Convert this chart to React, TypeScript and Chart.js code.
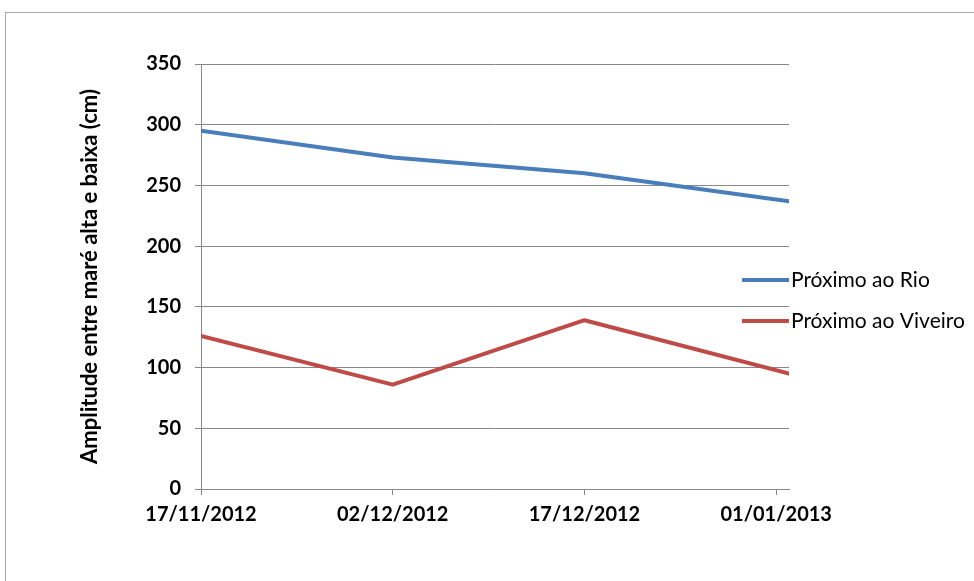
import React, { useEffect, useRef } from "react";
import { Chart, registerables } from "chart.js";

Chart.register(...registerables);

// Measurement dates and tidal amplitude (cm) for each site
const sampleDates = ["2012-11-17", "2012-12-02", "2012-12-17", "2013-01-02"];
const proximoAoRio = [295, 273, 260, 237];
const proximoAoViveiro = [126, 86, 139, 95];
const seriesLabels = ["Próximo ao Rio", "Próximo ao Viveiro"];
const seriesColors = ["#4A7EBB", "#BE4B48"];

// Dates shown on the horizontal axis
const tickDates = ["2012-11-17", "2012-12-02", "2012-12-17", "2013-01-01"];
const yAxisTitle = "Amplitude entre maré alta e baixa (cm)";

const DAY_MS = 86400000;
const toUtc = (iso: string) => {
  const [y, m, d] = iso.split("-").map(Number);
  return Date.UTC(y, m - 1, d);
};
const originMs = toUtc(sampleDates[0]);
const toDay = (iso: string) => (toUtc(iso) - originMs) / DAY_MS;
const formatDay = (day: number) => {
  const dt = new Date(originMs + day * DAY_MS);
  const dd = String(dt.getUTCDate()).padStart(2, "0");
  const mm = String(dt.getUTCMonth() + 1).padStart(2, "0");
  return `${dd}/${mm}/${dt.getUTCFullYear()}`;
};

const GRID = "#888888";
const FONT = "Lato";

// Legend drawn beside the plot, with its line keys overlapping the plot edge
const sideLegend = {
  id: "sideLegend",
  afterDraw(chart: any) {
    const { ctx, chartArea } = chart;
    const mid = (chartArea.top + chartArea.bottom) / 2;
    chart.data.datasets.forEach((ds: any, i: number) => {
      const y = mid + 3.5 + i * 41;
      ctx.save();
      ctx.strokeStyle = ds.borderColor;
      ctx.lineWidth = 4;
      ctx.beginPath();
      ctx.moveTo(chartArea.right - 47, y);
      ctx.lineTo(chartArea.right, y);
      ctx.stroke();
      ctx.fillStyle = "#000";
      ctx.font = `21px ${FONT}`;
      ctx.textBaseline = "middle";
      ctx.textAlign = "left";
      ctx.fillText(ds.label, chartArea.right + 2, y);
      ctx.restore();
    });
  },
};

export default function App() {
  const canvasRef = useRef<HTMLCanvasElement | null>(null);

  useEffect(() => {
    if (!canvasRef.current) return;
    const xs = sampleDates.map(toDay);
    const chart = new Chart(canvasRef.current, {
      type: "line",
      data: {
        datasets: [proximoAoRio, proximoAoViveiro].map((vals, i) => ({
          label: seriesLabels[i],
          data: vals.map((v, j) => ({ x: xs[j], y: v })),
          borderColor: seriesColors[i],
          backgroundColor: seriesColors[i],
          borderWidth: 4,
          pointRadius: 0,
          tension: 0,
          borderJoinStyle: "round" as const,
          borderCapStyle: "round" as const,
        })),
      },
      options: {
        responsive: false,
        animation: false,
        layout: { padding: { left: 60, top: 64, right: 185, bottom: 0 } },
        plugins: { legend: { display: false }, tooltip: { enabled: false } },
        scales: {
          x: {
            type: "linear",
            min: xs[0],
            max: xs[xs.length - 1],
            afterBuildTicks: (scale: any) => {
              scale.ticks = tickDates.map((d) => ({ value: toDay(d) }));
            },
            afterFit: (scale: any) => {
              scale.height = 92;
            },
            ticks: {
              callback: (v: any) => formatDay(Number(v)),
              font: { family: FONT, size: 20, weight: "bold" },
              color: "#000",
              padding: 8,
              maxRotation: 0,
              autoSkip: false,
            },
            grid: { drawOnChartArea: false, drawTicks: true, tickLength: 6, color: GRID },
            border: { color: GRID },
          },
          y: {
            min: 0,
            max: 350,
            ticks: {
              stepSize: 50,
              font: { family: FONT, size: 20, weight: "bold" },
              color: "#000",
              padding: 14,
            },
            afterFit: (scale: any) => {
              scale.width = 141;
            },
            grid: { color: GRID, tickLength: 6 },
            border: { color: GRID },
            title: {
              display: true,
              text: yAxisTitle,
              color: "#000",
              font: { family: FONT, size: 22, weight: "bold" },
              padding: { top: 17, bottom: 0 },
            },
          },
        },
      },
      plugins: [sideLegend],
    });
    return () => chart.destroy();
  }, []);

  return (
    <div
      style={{
        position: "absolute",
        left: 0,
        top: 0,
        width: 974,
        height: 581,
        overflow: "hidden",
        background: "#fff",
      }}
    >
      <div
        style={{
          position: "absolute",
          left: 5,
          top: 12,
          width: 2000,
          height: 2000,
          borderLeft: "1px solid #a6a6a6",
          borderTop: "1px solid #a6a6a6",
        }}
      />
      <canvas
        ref={canvasRef}
        width={974}
        height={581}
        style={{ position: "absolute", left: 0, top: 0, width: 974, height: 581 }}
      />
    </div>
  );
}
